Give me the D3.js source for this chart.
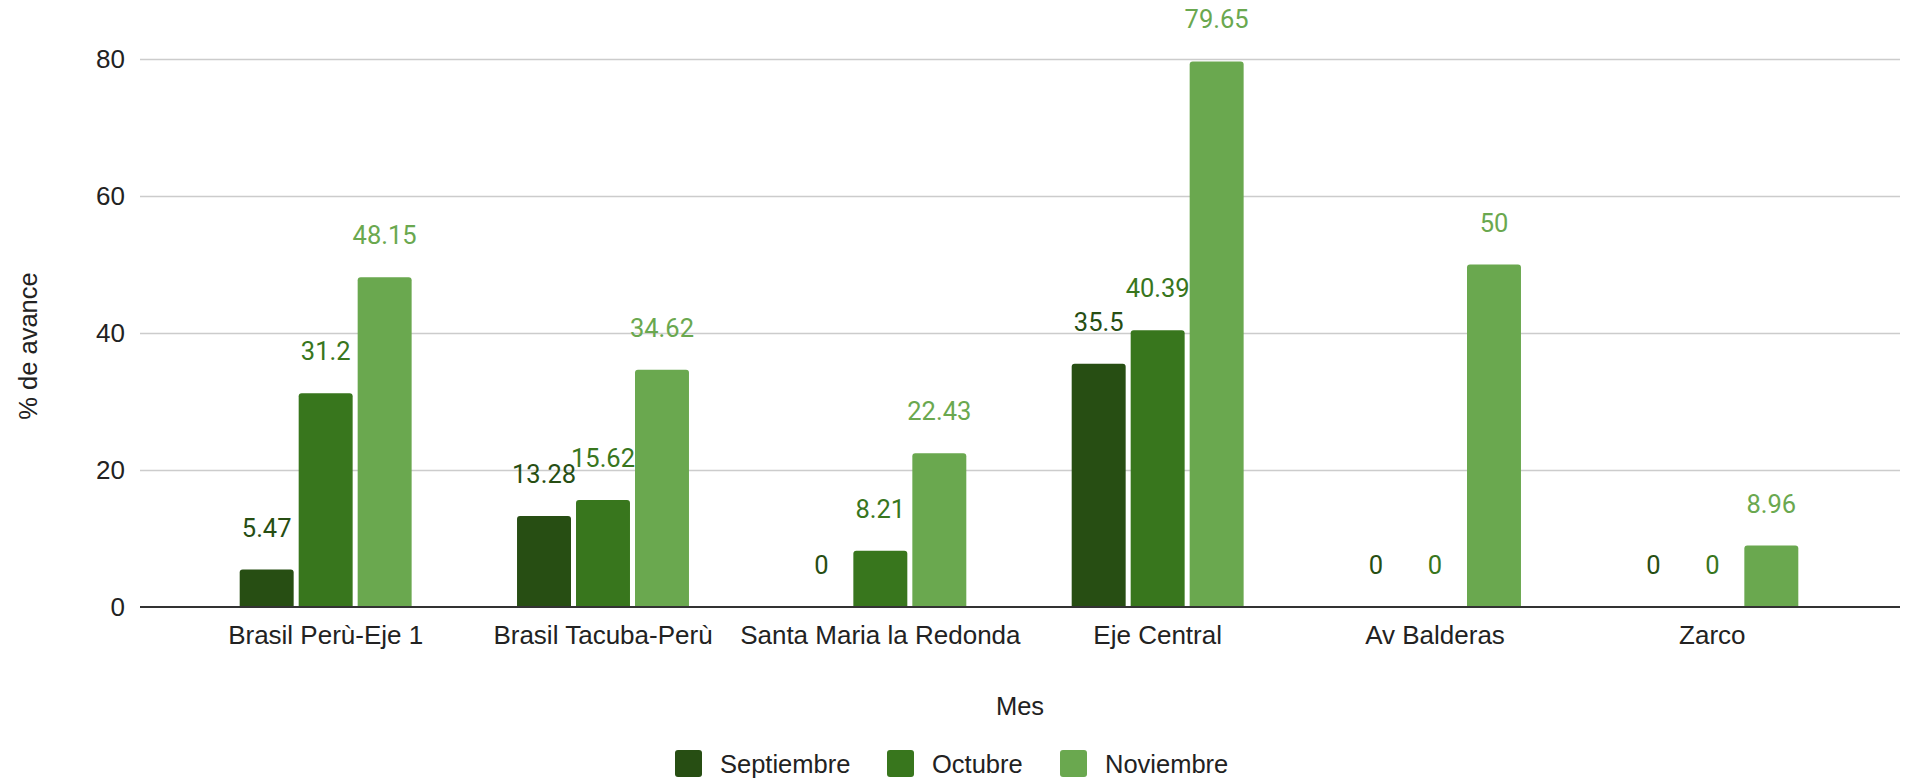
<!DOCTYPE html>
<html>
<head>
<meta charset="utf-8">
<script src="https://cdn.jsdelivr.net/npm/d3@7"></script>
<style>
  body { margin: 0; background: #fff; }
  svg { display: block; }
  .axis text { font-family: "Liberation Sans", Arial, sans-serif; font-size: 26px; fill: #222; }
  .lbl { font-family: Roboto, sans-serif; font-size: 25.5px; }
</style>
</head>
<body>
<svg id="chart" width="1906" height="778"></svg>
<script>
// data
var tramos = ["Brasil Perù-Eje 1", "Brasil Tacuba-Perù", "Santa Maria la Redonda", "Eje Central", "Av Balderas", "Zarco"];
var meses = ["Septiembre", "Octubre", "Noviembre"];
var septiembre = [5.47, 13.28, 0, 35.5, 0, 0];
var octubre = [31.2, 15.62, 8.21, 40.39, 0, 0];
var noviembre = [48.15, 34.62, 22.43, 79.65, 50, 8.96];
var yTicks = [0, 20, 40, 60, 80];
var colores = ["#274e13", "#38761d", "#6aa84f"];

var series = [septiembre, octubre, noviembre];

var svg = d3.select("#chart");

// plot area (don't use "top", it's window.top)
var plotLeft = 140, plotRight = 1900, plotTop = 59, plotBottom = 607;

var x0 = d3.scaleBand().domain(tramos).range([187, 1851]).paddingInner(0.38).paddingOuter(0.19);
var x1 = d3.scaleBand().domain(meses).range([0, x0.bandwidth()]).paddingInner(0.085);
var y = d3.scaleLinear().domain([0, 80]).range([plotBottom, plotTop]);
var color = d3.scaleOrdinal().domain(meses).range(colores);

// gridlines + y labels
var yAxis = svg.append("g").attr("class", "axis")
    .attr("transform", "translate(" + plotLeft + ",0)")
    .call(d3.axisLeft(y).tickValues(yTicks).tickSize(-(plotRight - plotLeft)).tickPadding(15));
yAxis.select(".domain").remove();
yAxis.selectAll(".tick line").attr("stroke", "#ccc").attr("stroke-width", 1.5);
yAxis.selectAll(".tick").filter(function (d) { return d === 0; }).select("line").remove();

// x labels
var xAxis = svg.append("g").attr("class", "axis")
    .attr("transform", "translate(0," + plotBottom + ")")
    .call(d3.axisBottom(x0).tickSize(0).tickPadding(19));
xAxis.select(".domain").remove();

// bars
function topRounded(x, yTop, w, h, r) {
    if (h <= 0) return "";
    r = Math.min(r, h, w / 2);
    return "M" + x + "," + (yTop + h) +
        "V" + (yTop + r) +
        "Q" + x + "," + yTop + " " + (x + r) + "," + yTop +
        "H" + (x + w - r) +
        "Q" + (x + w) + "," + yTop + " " + (x + w) + "," + (yTop + r) +
        "V" + (yTop + h) + "Z";
}

var rows = tramos.map(function (t, i) {
    return { tramo: t, vals: meses.map(function (m, j) { return { mes: m, v: series[j][i] }; }) };
});

var groups = svg.append("g").selectAll("g").data(rows).enter().append("g")
    .attr("transform", function (d) { return "translate(" + x0(d.tramo) + ",0)"; });

groups.selectAll("path").data(function (d) { return d.vals; }).enter().append("path")
    .attr("d", function (d) { return topRounded(x1(d.mes), y(d.v), x1.bandwidth(), y(0) - y(d.v), 3); })
    .attr("fill", function (d) { return color(d.mes); });

// baseline
svg.append("line").attr("x1", plotLeft).attr("x2", plotRight).attr("y1", y(0)).attr("y2", y(0))
    .attr("stroke", "#333").attr("stroke-width", 2);

// value labels
groups.selectAll("text.lbl").data(function (d) { return d.vals; }).enter().append("text")
    .attr("class", "lbl")
    .attr("x", function (d) { return x1(d.mes) + x1.bandwidth() / 2; })
    .attr("y", function (d) { return y(d.v) - 33; })
    .attr("text-anchor", "middle")
    .attr("fill", function (d) { return color(d.mes); })
    .text(function (d) { return d.v; });

// axis titles
svg.append("text")
    .attr("transform", "translate(37,346) rotate(-90)")
    .attr("text-anchor", "middle")
    .style("font-family", "'Liberation Sans', Arial, sans-serif").style("font-size", "25.5px").attr("fill", "#222")
    .text("% de avance");

svg.append("text")
    .attr("x", (plotLeft + plotRight) / 2).attr("y", 715)
    .attr("text-anchor", "middle")
    .style("font-family", "'Liberation Sans', Arial, sans-serif").style("font-size", "25.5px").attr("fill", "#222")
    .text("Mes");

// legend
var legX = [675, 887, 1060];
var leg = svg.append("g").selectAll("g").data(meses).enter().append("g")
    .attr("transform", function (d, i) { return "translate(" + legX[i] + ",750)"; });
leg.append("rect").attr("width", 27).attr("height", 27).attr("rx", 3)
    .attr("fill", function (d) { return color(d); });
leg.append("text").attr("x", 45).attr("y", 23)
    .style("font-family", "'Liberation Sans', Arial, sans-serif").style("font-size", "25.5px").attr("fill", "#222")
    .text(function (d) { return d; });
</script>
</body>
</html>
